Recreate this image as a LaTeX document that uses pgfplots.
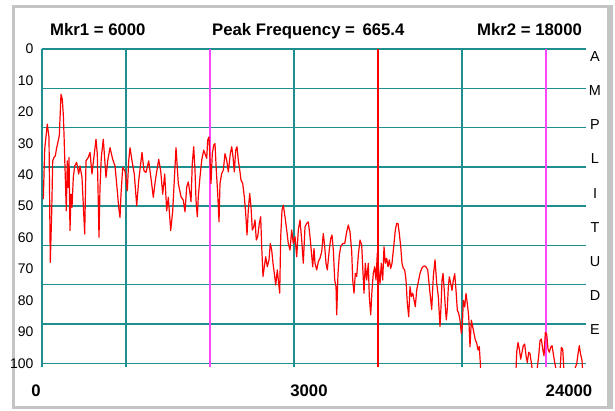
\documentclass[border=0pt]{standalone}
\usepackage{fontspec}
\setmainfont{Liberation Sans}
\usepackage{pgfplots}
\pgfplotsset{compat=1.18}
\definecolor{gridteal}{RGB}{30,142,142}
\definecolor{mkrmag}{RGB}{255,70,255}
\definecolor{tracered}{RGB}{255,0,0}
\definecolor{framegray}{RGB}{196,196,196}
\newcommand{\hdr}{\fontsize{16.8}{18}\selectfont\bfseries}
\begin{document}
\begin{tikzpicture}[x=1bp,y=1bp]
\path[use as bounding box] (0,0) rectangle (615,410);
% panel frame
\fill[framegray] (12,1) rectangle (15,404.5);
\fill[framegray] (12,402) rectangle (612.5,404.5);
\fill[framegray] (606.5,1) rectangle (612.5,404.5);
\fill[framegray] (12,1) rectangle (612.5,4);
\begin{axis}[
  at={(314bp,202bp)}, anchor=center,
  scale only axis, width=544bp, height=318bp,
  xmin=0, xmax=544, ymin=0, ymax=101.2, y dir=reverse,
  axis line style={draw=none}, tick style={draw=none},
  xtick={0,84,252,420}, xticklabels={},
  ytick={0,12.5,...,100}, yticklabels={},
  grid=major, major grid style={gridteal, line width=1.4bp},
  extra y ticks={0,10,20,30,40,50,60,70,80,90,100},
  extra y tick labels={0,10,20,30,40,50,60,70,80,90,100},
  extra y tick style={grid=none,
    yticklabel style={font=\fontsize{14}{15}\selectfont, anchor=east, xshift=-5bp}},
  clip=true,
]
% markers
\addplot[mkrmag, line width=1.4bp] coordinates {(168,0) (168,101.2)};
\addplot[mkrmag, line width=1.4bp] coordinates {(504,0) (504,101.2)};
\addplot[tracered, line width=1.1bp] coordinates {(336,0) (336,101.2)};
% spectrum trace (amplitude, 0 at top)
\addplot[tracered, line width=1.2bp, line join=round] coordinates {
(1.3,47.8) (2.7,31.9) (5.3,23.9) (7,28.2) (8.3,67.9) (9.7,52.0) (10.7,35.6) (12,34.5) (13.3,34.0) (14.7,31.4) (17.3,27.6) (19,14.4) (20.3,16.0) (21.3,20.8) (22,27.1) (23.3,40.9) (24.3,51.5) (25.3,35.6) (26.3,44.1) (27,34.5) (28,57.8) (29,46.2) (30,50.4) (31.3,40.9) (32.7,37.2) (34.7,36.1) (36.7,39.8) (38,37.2) (40,40.9) (42.7,58.9) (44,35.6) (46.3,34.5) (48,32.9) (50,39.8) (51.3,36.1) (54,28.7) (55.3,33.5) (57,59.9) (58,44.1) (59.3,34.5) (61.3,28.7) (64,40.9) (65.7,35.6) (68,31.4) (70.7,35.1) (73,37.2) (75.3,45.1) (76.7,50.4) (78,53.6) (79,46.2) (80.7,37.7) (83,38.8) (85.3,45.1) (86.7,35.6) (88,31.4) (90,35.6) (92.3,39.8) (94.7,49.9) (96.7,41.9) (100,32.9) (102,38.8) (104,39.3) (106.7,35.6) (109.3,41.9) (111.3,47.2) (113.3,41.9) (116.7,35.1) (118.7,38.8) (120.7,46.2) (122.7,39.8) (124.7,51.5) (126.3,47.2) (128.7,57.8) (130.7,51.5) (134,31.4)
(136.3,42.8) (139,47.0) (141.3,48.1) (143,51.8) (144.7,43.9) (146.3,42.3) (148,46.0) (149,48.6) (150.3,36.4) (151.7,31.1) (153,38.6) (154,48.1) (155.3,53.4) (156.3,47.0) (158,40.7) (159.7,35.4) (161.7,32.2) (163,33.3) (164.7,34.8) (165.7,29.0) (167,28.0) (168,35.4) (169,42.8) (170.3,33.3) (171.7,30.6) (173,30.1) (174.3,38.6) (175.7,46.0) (177,55.0) (178,42.8) (179.7,39.6) (181.3,38.6) (183,33.3) (184.7,35.4) (186.3,39.1) (188.3,33.3) (189.7,31.1) (191,34.3) (192.3,39.1) (193.7,32.2) (195,31.1) (196.3,35.4) (198,39.1) (199,41.7) (200.7,42.8) (202.3,47.0) (203.7,52.3) (205,59.2) (206.3,51.3) (207.7,46.0) (209,50.2) (210.3,57.6) (211.7,56.6) (213,54.4) (214.3,60.8) (215.7,59.7) (217.3,55.5) (218.7,53.4) (219.7,62.9) (221,72.4) (222.3,69.3) (223.7,66.1) (225.3,69.3) (227,67.1) (228.3,61.9) (229.7,64.0) (231,68.2) (232.3,71.4) (233.7,75.1) (235.3,70.3) (236.3,73.5) (237.7,77.7) (238.7,59.7) (240,51.3) (241.3,49.7) (243,53.4) (244.7,57.6) (246.3,61.9) (248,64.0) (249.7,57.6) (251.3,61.9) (253,59.7) (254.7,66.1) (256.3,57.6) (258,54.4) (259.7,60.8) (261.3,68.2) (263,56.6) (264.7,55.5) (266.3,55.0) (268,59.7)
(270.7,69.3) (272,63.5) (273,68.2) (274.7,70.3) (276.3,67.7) (278,66.6) (279.7,64.5) (281.3,58.7) (282.7,62.9) (284,68.2) (285.3,70.3) (287.3,63.9) (288.7,60.3) (290,59.2) (291.3,63.9) (292.7,73.5) (294,75.6) (294.7,84.6) (296,71.4) (297.3,65.6) (298.7,62.9) (300.7,61.9) (302.7,61.9) (304.7,58.2) (306.3,56.0) (308,58.2) (309.7,64.5) (310.7,73.5) (312,77.7) (313.3,71.4) (314.7,72.4) (316.3,65.6) (318,60.8) (319.7,62.4) (320.7,69.3) (322,77.7) (323.3,68.2) (324.7,73.5) (326.3,68.2) (327.3,78.8) (328.7,84.6) (330,76.7) (331.3,71.4) (332.7,69.3) (334,73.5) (335.3,65.0) (336.7,70.3) (338,74.6) (339.3,68.2) (340.7,73.5) (342,62.9) (343.3,68.2) (344.7,66.6) (346,69.3) (347.3,67.1) (348.7,69.8) (350,68.2) (352,61.9) (353.3,57.6) (354.7,55.5) (356,55.5) (357.3,58.7) (358.7,62.9) (360,68.2) (361.3,69.8) (362.7,70.3) (364,73.5) (365.3,80.9) (366.7,85.2) (368,75.6) (369.3,78.8) (370.7,77.7) (372,79.8) (373.3,82.0) (374.7,76.7) (376,74.6) (378,71.4) (379.7,69.8) (381.3,69.2) (382.7,69.0) (384,69.4) (385.7,70.3) (388,77.7) (389.7,82.9) (391.3,72.4) (393,67.1) (394.7,74.6) (396.3,78.8) (398,88.3)
(399,82.1) (400,73.5) (401,71.4) (402,75.6) (403.3,82.0) (404.3,86.2) (405.3,82.6) (406.3,75.8) (407.3,72.5) (408.7,74.6) (410,76.8) (411.3,73.6) (412.7,71.5) (414,76.8) (415.3,83.1) (416.7,84.2) (418,86.3) (419.3,90.5) (420.3,88.4) (421.3,80.0) (422.7,82.1) (424,77.8) (425.3,81.0) (426.7,85.2) (428,94.8) (429.3,86.3) (430.7,88.4) (432,90.5) (433.3,92.6) (434.7,93.6) (436,95.8) (437.3,94.7) (438.7,102) (440,110) (473,110)
(474.7,96.5) (476,93.4) (477.3,95.5) (478.7,98.7) (480,96.5) (481.3,94.4) (482.7,93.9) (484,97.6) (485.3,99.8) (486.7,96.5) (488,97.0) (489.3,99.8) (490.7,103) (494.7,103) (496.7,97.6) (498,92.8) (499.3,92.3) (500.7,95.5) (502,97.6) (503.3,90.2) (504.7,90.8) (506,95.5) (507.3,96.5) (508.7,94.9) (510,94.4) (511.3,97.0) (512.7,99.8) (514.7,103) (518,103) (519.3,95.0) (520.7,95.5) (522,103) (531.3,103) (534.7,100.2) (536,97.0) (537.3,94.4) (538.5,97.0) (540,99.1) (540.7,103) (542,110)
};
\end{axis}
% header readouts
\node[anchor=base west, inner sep=0, font=\hdr] at (50,375) {Mkr1 = 6000};
\node[anchor=base west, inner sep=0, font=\hdr] at (212,375) {Peak Frequency =\hspace{0.45em}665.4};
\node[anchor=base west, inner sep=0, font=\hdr] at (477,375) {Mkr2 = 18000};
% frequency readouts
\node[anchor=base, inner sep=0, font=\hdr] at (36,13.3) {0};
\node[anchor=base, inner sep=0, font=\hdr] at (309,13.3) {3000};
\node[anchor=base, inner sep=0, font=\hdr] at (569,13.3) {24000};
% vertical axis caption
\foreach \ch [count=\i from 0] in {A,M,P,L,I,T,U,D,E}
  \node[inner sep=0, font=\fontsize{14.5}{16}\selectfont] at (595,353.3-34.1*\i) {\ch};
\end{tikzpicture}
\end{document}
